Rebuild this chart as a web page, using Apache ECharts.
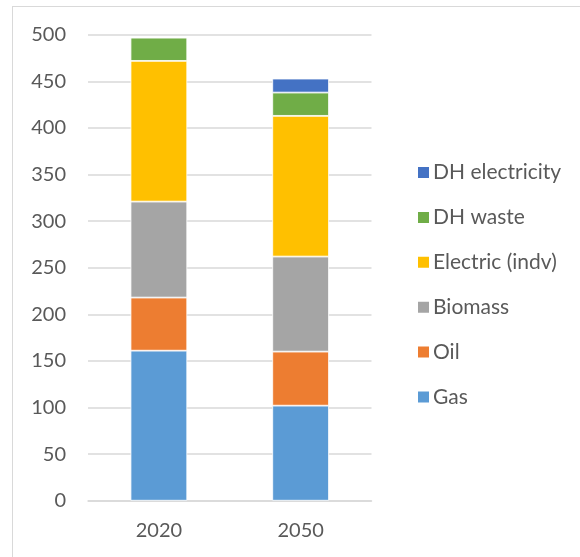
<!DOCTYPE html>
<html><head><meta charset="utf-8">
<script src="https://cdn.jsdelivr.net/npm/echarts@6/dist/echarts.min.js"></script>
<style>
html,body{margin:0;padding:0;background:#fff;}
#frame{position:absolute;left:12px;top:6px;width:600px;height:600px;border:1.5px solid #d9d9d9;box-sizing:border-box;}
#c{position:absolute;left:0;top:0;width:580px;height:557px;}
</style></head>
<body>
<div id="frame"></div>
<div id="c"></div>
<script>
var categories = ['2020', '2050'];
var gas = [161, 102];
var oil = [57, 58];
var biomass = [103, 102];
var electricIndv = [151, 151];
var dhWaste = [25, 25];
var dhElectricity = [0, 15];
var yTicks = [0, 50, 100, 150, 200, 250, 300, 350, 400, 450, 500];

var seriesDefs = [
  {name: 'Gas', data: gas, color: '#5B9BD5'},
  {name: 'Oil', data: oil, color: '#ED7D31'},
  {name: 'Biomass', data: biomass, color: '#A5A5A5'},
  {name: 'Electric (indv)', data: electricIndv, color: '#FFC000'},
  {name: 'DH waste', data: dhWaste, color: '#70AD47'},
  {name: 'DH electricity', data: dhElectricity, color: '#4472C4'}
];
var font = 'Lato, "Open Sans", sans-serif';
var chart = echarts.init(document.getElementById('c'), null, {renderer: 'canvas'});
chart.setOption({
  animation: false,
  backgroundColor: 'transparent',
  grid: {left: 88, right: 208.5, top: 34.8, bottom: 56.3, containLabel: false},
  legend: {
    orient: 'vertical', left: 411, top: 157,
    itemWidth: 13, itemHeight: 13, itemGap: 23.9,
    icon: 'rect',
    data: seriesDefs.map(function(s){return s.name;}).reverse(),
    textStyle: {color: '#595959', fontSize: 21, fontFamily: font, padding: [0,0,0,-2]}
  },
  xAxis: {
    type: 'category', data: categories,
    axisLine: {lineStyle: {color: '#d9d9d9', width: 1.5}},
    axisTick: {show: false},
    axisLabel: {color: '#595959', fontSize: 20, fontFamily: font, margin: 20}
  },
  yAxis: {
    type: 'value', min: yTicks[0], max: yTicks[yTicks.length-1], interval: 50,
    axisLine: {show: false}, axisTick: {show: false},
    splitLine: {lineStyle: {color: '#d9d9d9', width: 1.5}},
    axisLabel: {color: '#595959', fontSize: 20, fontFamily: font, margin: 22}
  },
  series: seriesDefs.map(function(s){
    return {
      name: s.name, type: 'bar', stack: 'total', data: s.data,
      barWidth: '40%',
      itemStyle: {color: s.color, borderColor: '#ffffff', borderWidth: 0.8}
    };
  })
});
</script>
</body></html>
